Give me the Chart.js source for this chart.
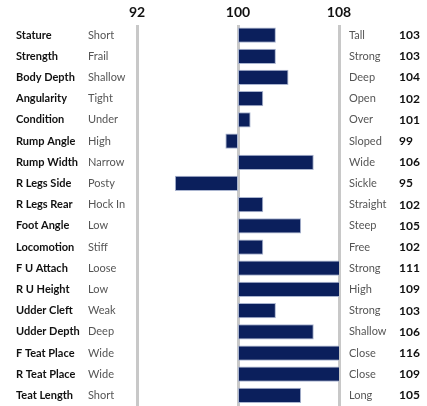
<!DOCTYPE html>
<html>
<head>
<meta charset="utf-8">
<script src="https://cdn.jsdelivr.net/npm/chart.js@4"></script>
<style>
  html, body { margin: 0; padding: 0; background: #fff; }
  canvas { display: block; }
</style>
</head>
<body>
<canvas id="traitChart" width="427" height="406"></canvas>
<script>
const traits = ['Stature', 'Strength', 'Body Depth', 'Angularity', 'Condition', 'Rump Angle', 'Rump Width',
    'R Legs Side', 'R Legs Rear', 'Foot Angle', 'Locomotion', 'F U Attach', 'R U Height', 'Udder Cleft',
    'Udder Depth', 'F Teat Place', 'R Teat Place', 'Teat Length'];
const lowEnd = ['Short', 'Frail', 'Shallow', 'Tight', 'Under', 'High', 'Narrow', 'Posty', 'Hock In', 'Low',
    'Stiff', 'Loose', 'Low', 'Weak', 'Deep', 'Wide', 'Wide', 'Short'];
const highEnd = ['Tall', 'Strong', 'Deep', 'Open', 'Over', 'Sloped', 'Wide', 'Sickle', 'Straight', 'Steep',
    'Free', 'Strong', 'High', 'Strong', 'Shallow', 'Close', 'Close', 'Long'];
const scores = [103, 103, 104, 102, 101, 99, 106, 95, 102, 105, 102, 111, 109, 103, 106, 116, 109, 105];
const axisTicks = [92, 100, 108];
const baseline = 100;

// texte des colonnes à gauche et à droite du graphique
const colonnesTexte = {
    id: 'colonnesTexte',
    afterDraw(chart) {
        const ctx = chart.ctx;
        const y = chart.scales.y;
        ctx.save();
        ctx.textBaseline = 'middle';
        ctx.textAlign = 'left';
        traits.forEach((nom, i) => {
            const py = y.getPixelForValue(i);
            ctx.font = 'bold 11px Lato';
            ctx.fillStyle = '#111';
            ctx.fillText(nom, 16, py);
            ctx.font = '11px Lato';
            ctx.fillStyle = '#555';
            ctx.fillText(lowEnd[i], 88, py);
            ctx.fillText(highEnd[i], 349, py);
            ctx.font = 'bold 12px Lato';
            ctx.fillStyle = '#111';
            ctx.fillText(String(scores[i]), 399, py);
        });
        ctx.restore();
    }
};

const ctx = document.getElementById('traitChart').getContext('2d');
new Chart(ctx, {
    type: 'bar',
    data: {
        labels: traits,
        datasets: [{
            data: scores.map(v => [baseline, v]),
            backgroundColor: '#0b1f5c',
            borderColor: '#a9b4cf',
            borderWidth: 1,
            borderSkipped: false,
            barPercentage: 0.72,
            categoryPercentage: 1
        }]
    },
    options: {
        indexAxis: 'y',
        responsive: false,
        animation: false,
        layout: { padding: { left: 137, right: 88, top: 0, bottom: -2 } },
        plugins: { legend: { display: false }, tooltip: { enabled: false } },
        scales: {
            x: {
                position: 'top',
                min: 92,
                max: 108,
                afterBuildTicks: s => { s.ticks = axisTicks.map(v => ({ value: v })); },
                afterFit: s => { s.height = 24.5; },
                grid: { color: '#c8c8c8', lineWidth: 3, drawTicks: false },
                border: { display: false },
                ticks: {
                    padding: 4,
                    color: '#111',
                    font: { family: 'Lato', size: 14, weight: 'bold' }
                }
            },
            y: { display: false }
        }
    },
    plugins: [colonnesTexte]
});
</script>
</body>
</html>
